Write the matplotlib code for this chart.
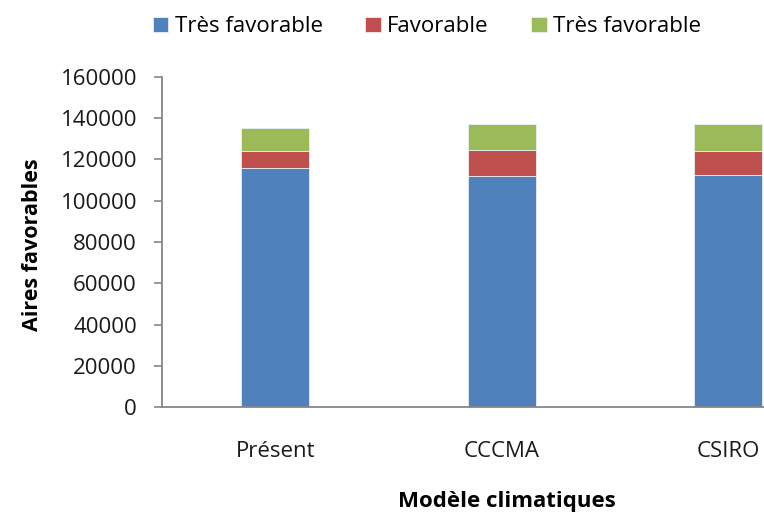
import matplotlib.pyplot as plt

plt.rcParams['font.family'] = ['Open Sans', 'DejaVu Sans']

modeles = ['Présent', 'CCCMA', 'CSIRO']
series = ['Très favorable', 'Favorable', 'Très favorable']
tres_favorable = [116000, 111800, 112700]
favorable = [8200, 12900, 11500]
tres_favorable_2 = [11100, 12500, 13000]
couleurs = ['#4F81BD', '#C0504D', '#9BBB59']

fig = plt.figure(figsize=(7.64, 5.13), dpi=100)
# the plot area runs past the right edge of the figure
ax = fig.add_axes([162 / 764, 105.7 / 513, 679.5 / 764, 330.4 / 513])

x = list(range(len(modeles)))
bas = [0, 0, 0]
for vals, nom, c in zip([tres_favorable, favorable, tres_favorable_2], series, couleurs):
    ax.bar(x, vals, width=0.3, bottom=bas, color=c, label=nom,
           edgecolor='#e8eef5', linewidth=0.6)
    bas = [b + v for b, v in zip(bas, vals)]

ax.set_xlim(-0.5, 2.5)
ax.set_ylim(0, 160000)
ax.set_yticks(range(0, 160001, 20000))
ax.set_xticks(x)
ax.set_xticklabels(modeles, fontsize=16, color='#1a1a1a')
ax.tick_params(axis='x', length=0, pad=24)
ax.tick_params(axis='y', length=6, width=1.2, color='#868686',
               labelsize=16, labelcolor='#1a1a1a', pad=12)

for s in ['top', 'right']:
    ax.spines[s].set_visible(False)
for s in ['left', 'bottom']:
    ax.spines[s].set_color('#868686')
    ax.spines[s].set_linewidth(1.3)

fig.text(33 / 764, 1 - 245 / 513, 'Aires favorables', rotation=90,
         ha='center', va='center', fontsize=15.5, fontweight='bold')
fig.text(507 / 764, 1 - 501 / 513, 'Modèle climatiques',
         ha='center', va='center', fontsize=16, fontweight='bold')

fig.legend(loc='center', bbox_to_anchor=(427 / 764, 1 - 27 / 513), ncol=3,
           frameon=False, fontsize=16, handlelength=0.7, handleheight=0.7,
           handletextpad=0.3, columnspacing=1.9)

fig.savefig('out.png', dpi=100)
